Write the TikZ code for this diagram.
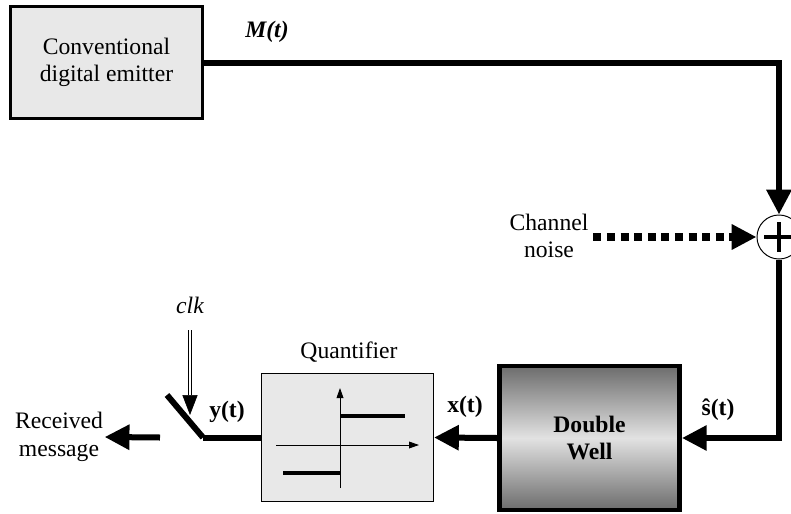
\documentclass[tikz,border=0pt]{standalone}
\usepackage{fontspec}
\setmainfont{Liberation Serif}
\definecolor{boxgray}{RGB}{232,232,232}
\definecolor{welldark}{RGB}{108,108,108}
\definecolor{welllight}{RGB}{226,226,226}
\usetikzlibrary{arrows.meta,positioning}

\begin{document}
\begin{tikzpicture}[x=0.025cm, y=-0.025cm,
    every node/.style={font=\fontsize{16.8}{19.5}\selectfont},
    block/.style={draw, fill=boxgray, align=center, inner sep=0pt},
    lbl/.style={font=\fontsize{16.8}{19.5}\selectfont\bfseries},
    wire/.style={line width=0.15cm},
    sig/.style={wire, -{Triangle[length=0.62cm, width=0.6cm]}}
  ]
    \useasboundingbox (0,0) rectangle (791,514);

    % Emitter
    \node[block, line width=0.075cm, minimum width=4.82cm, minimum height=2.8cm] (emitter) at (106.5,62.5)
      {Conventional\\digital emitter};
    \node[lbl, font=\fontsize{16.8}{19.5}\selectfont\bfseries\itshape] (mlabel) at (267,32) {M(t)};

    % Summing point
    \node[circle, draw, line width=0.7pt, minimum size=1.1cm, inner sep=0pt] (sum) at (779,237) {};
    \draw[line width=0.1cm] ([xshift=-0.37cm]sum.center) -- ([xshift=0.37cm]sum.center);
    \draw[line width=0.1cm] ([yshift=-0.37cm]sum.center) -- ([yshift=0.37cm]sum.center);
    \draw[sig] (emitter.east) -| (sum.north);

    % Channel noise
    \node[align=center] (noise) at (549,236) {Channel\\noise};
    \draw[line width=0.18cm, dash pattern=on 0.2cm off 0.14cm,
          -{Triangle[length=0.62cm, width=0.6cm]}] (noise.east |- sum.west) -- (sum.west);

    % Double well
    \node[draw, line width=0.12cm, minimum width=4.5cm, minimum height=3.6cm,
          top color=welldark, bottom color=welldark, middle color=welllight,
          align=center, lbl] (dwell) at (589.5,438) {Double\\Well};
    \draw[sig] (sum.south) |- (dwell.east);
    \node[lbl] (slabel) at (718,410) {\^{s}(t)};

    % Quantifier
    \node[block, line width=0.7pt, minimum width=4.3cm, minimum height=3.2cm] (quant) at (347.5,437.5) {};
    \node (qlabel) at (349,352) {Quantifier};
    \draw[line width=0.6pt, -{Triangle[length=0.25cm, width=0.17cm]}] (276,445) -- (419,445);
    \draw[line width=0.6pt, -{Triangle[length=0.25cm, width=0.17cm]}] (340,488) -- (340,388);
    \draw[line width=0.1cm] (340,416) -- (405,416);
    \draw[line width=0.1cm] (283,473) -- (340,473);
    \draw[sig] (dwell.west) -- (quant.east);
    \node[lbl] (xlabel) at (465,407) {x(t)};

    % Sampling switch
    \coordinate (sw) at (203,437.5);
    \draw[wire] (quant.west) -- (sw);
    \draw[wire] (sw) -- (167,395);
    \node[lbl] (ylabel) at (227,412) {y(t)};
    \node[font=\fontsize{16.8}{19.5}\selectfont\itshape] (clk) at (190,305) {clk};
    \coordinate (clkend) at (190,415);
    \draw[double, double distance=0.05cm, line width=0.45pt, shorten <=0.3cm,
          -{Triangle[length=0.5cm, width=0.38cm]}] (clk.south) -- (clkend);

    % Output
    \node[align=center, inner sep=1pt] (recv) at (59,437) {Received\\message};
    \coordinate (swgap) at (160,437.5);
    \draw[sig] (swgap) -- (recv.east);
  \end{tikzpicture}
\end{document}
